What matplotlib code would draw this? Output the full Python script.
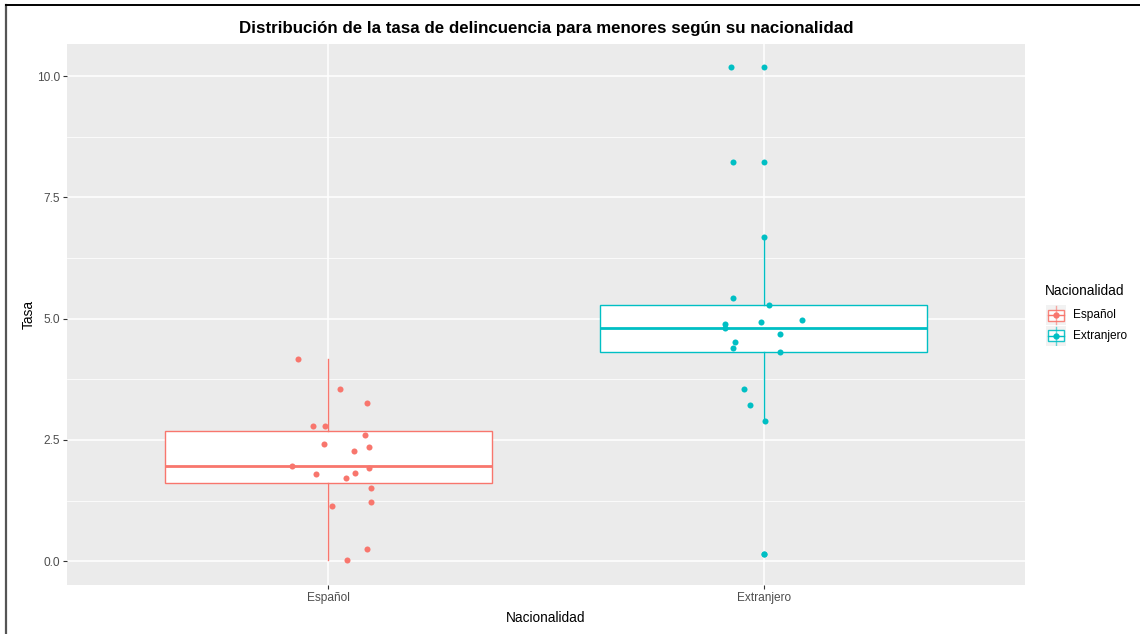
import numpy as np
import matplotlib.pyplot as plt
from matplotlib.lines import Line2D
from matplotlib.patches import Rectangle

plt.rcParams["font.family"] = ["Liberation Sans", "DejaVu Sans"]

# --- data ---
categories = ["Español", "Extranjero"]
colors = ["#F8766D", "#00BFC4"]

tasa_espanol = [4.17, 3.55, 3.26, 2.78, 2.78, 2.60, 2.41, 2.36, 2.28, 1.97,
                1.92, 1.81, 1.80, 1.72, 1.51, 1.22, 1.14, 0.26, 0.02]
jitter_espanol = [-0.069, 0.027, 0.090, -0.035, -0.007, 0.084, -0.009, 0.094,
                  0.060, -0.084, 0.094, 0.062, -0.028, 0.041, 0.099, 0.097,
                  0.008, 0.090, 0.043]

tasa_extranjero = [10.18, 8.23, 6.68, 5.43, 5.29, 4.97, 4.93, 4.89, 4.81,
                   4.68, 4.52, 4.39, 4.31, 3.55, 3.23, 2.90, 0.14]
jitter_extranjero = [-0.075, -0.071, 0.000, -0.071, 0.013, 0.088, -0.006,
                     -0.088, -0.088, 0.038, -0.067, -0.071, 0.038, -0.045,
                     -0.032, 0.002, 0.000]

data = [tasa_espanol, tasa_extranjero]
jitters = [jitter_espanol, jitter_extranjero]

W, H = 1140, 634
fig = plt.figure(figsize=(W / 100, H / 100), dpi=100)
ax = fig.add_axes([67 / W, 1 - 585 / H, (1025 - 67) / W, (585 - 44) / H])

# ggplot2 grey theme
ax.set_facecolor("#EBEBEB")
for s in ax.spines.values():
    s.set_visible(False)
for v in [1.25, 3.75, 6.25, 8.75]:
    ax.axhline(v, color="white", lw=0.55, zorder=0)
for v in [0, 2.5, 5, 7.5, 10]:
    ax.axhline(v, color="white", lw=1.1, zorder=0)
for i in range(len(categories)):
    ax.axvline(i + 1, color="white", lw=1.1, zorder=0)

for i, (vals, c) in enumerate(zip(data, colors)):
    ax.boxplot(vals, positions=[i + 1], widths=0.75, patch_artist=True,
               manage_ticks=False,
               boxprops=dict(facecolor="white", edgecolor=c, lw=1.0),
               medianprops=dict(color=c, lw=2.0),
               whiskerprops=dict(color=c, lw=1.0),
               capprops=dict(lw=0),
               flierprops=dict(marker="o", markerfacecolor=c,
                               markeredgecolor="none", markersize=4.3),
               zorder=2)
    ax.scatter(np.array(jitters[i]) + i + 1, vals, s=19, color=c,
               linewidths=0, zorder=3)

ax.set_xlim(0.4, 2.6)
ax.set_ylim(-0.49, 10.66)
ax.set_xticks([1, 2])
ax.set_xticklabels(categories)
ax.set_yticks([0, 2.5, 5, 7.5, 10])
ax.set_yticklabels(["0.0", "2.5", "5.0", "7.5", "10.0"])
ax.tick_params(colors="#333333", labelcolor="#4D4D4D", labelsize=8.6,
               length=3, width=0.8, pad=2)
ax.set_xlabel("Nacionalidad", fontsize=9.8, labelpad=5)
ax.set_ylabel("Tasa", fontsize=9.8, labelpad=1)
fig.text(546 / W, 1 - 29 / H,
         "Distribución de la tasa de delincuencia para menores según su nacionalidad",
         ha="center", va="center", fontsize=12.2, fontweight="bold")

# legend drawn by hand to mimic ggplot boxplot keys
fig.text(1045 / W, 1 - 291 / H, "Nacionalidad", fontsize=9.8,
         ha="left", va="center")
lax = fig.add_axes([1046 / W, 1 - 346 / H, 20 / W, 42 / H])
lax.set_xlim(0, 20)
lax.set_ylim(42, 0)
lax.axis("off")
for k, (lab, c) in enumerate(zip(categories, colors)):
    y0 = 1 + k * 20.5
    lax.add_patch(Rectangle((0, y0), 20, 20, facecolor="#F2F2F2",
                            edgecolor="none"))
    lax.plot([10, 10], [y0 + 1, y0 + 19], color=c, lw=1.0, alpha=0.6)
    lax.add_patch(Rectangle((2, y0 + 4.5), 16, 11, facecolor="white",
                            edgecolor=c, lw=1.0, alpha=0.9))
    lax.plot([2, 18], [y0 + 10, y0 + 10], color=c, lw=1.0)
    lax.plot(10, y0 + 10, "o", color=c, markersize=3.5)
    fig.text(1073 / W, 1 - (y0 + 10 + 304) / H, lab, fontsize=8.6,
             ha="left", va="center")

# screenshot frame
fig.add_artist(Line2D([6 / W, 6 / W], [0, 1 - 5 / H], color="#555555", lw=1.6))
fig.add_artist(Line2D([6 / W, 1], [1 - 5 / H, 1 - 5 / H], color="black", lw=1.4))

fig.savefig("out.png", dpi=100, facecolor="white")
